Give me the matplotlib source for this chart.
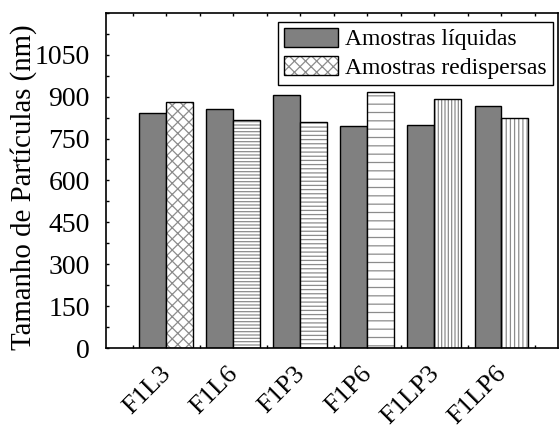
import matplotlib
matplotlib.use("Agg")
import matplotlib.pyplot as plt
import matplotlib.transforms as mtransforms
import numpy as np
from matplotlib.patches import Patch
from matplotlib.legend_handler import HandlerTuple
from matplotlib.ticker import MultipleLocator

categories = ["F1L3", "F1L6", "F1P3", "F1P6", "F1LP3", "F1LP6"]
liquidas = [842, 856, 904, 794, 798, 866]
redispersas = [881, 815, 810, 915, 891, 824]
hatches = ["xxx", "-----", "----", "--", "|||||", "||||"]
yticks = [0, 150, 300, 450, 600, 750, 900, 1050]

plt.rcParams['font.family'] = ['Liberation Serif', 'DejaVu Serif']
plt.rcParams['hatch.linewidth'] = 0.9

fig = plt.figure(figsize=(5.6, 4.26), dpi=100)
ax = fig.add_axes([0.189, 0.183, 0.808, 0.787])

x = np.arange(1, len(categories) + 1)
w = 0.4
dark = "#808080"
hatchgrey = "#8c8c8c"

ax.bar(x - w / 2, liquidas, width=w, color=dark, edgecolor="black", linewidth=1.0, zorder=2)
for xi, v, h in zip(x, redispersas, hatches):
    ax.bar(xi + w / 2, v, width=w, color="white", edgecolor=hatchgrey, linewidth=0, hatch=h, zorder=2)
    ax.bar(xi + w / 2, v, width=w, fill=False, edgecolor="black", linewidth=1.0, zorder=3)

ax.set_xlim(0.1, 6.85)
ax.set_ylim(0, 1200)
ax.set_yticks(yticks)
ax.yaxis.set_minor_locator(MultipleLocator(75))
ax.set_xticks(x)
ax.set_xticklabels([])
offset = mtransforms.ScaledTranslation(-4.5 / 72, -10.5 / 72, fig.dpi_scale_trans)
trans = ax.get_xaxis_transform() + offset
for xi, lab in zip(x, categories):
    ax.text(xi, 0, lab, transform=trans, rotation=45, ha="right", va="top",
            rotation_mode="anchor", fontsize=19, clip_on=False)
ax.xaxis.set_minor_locator(MultipleLocator(0.5))
ax.tick_params(axis="y", which="major", direction="out", length=5, width=1, labelsize=20, pad=11.5)
ax.tick_params(axis="y", which="minor", direction="out", length=3, width=1)
ax.tick_params(axis="x", which="major", direction="out", length=6, width=1)
ax.tick_params(axis="x", which="minor", direction="inout", length=3, width=1)
ax.tick_params(top=True, which="minor", direction="in", length=2)
ax.tick_params(top=True, which="major", direction="in", length=2)
for s in ax.spines.values():
    s.set_linewidth(1.2)

ax.set_ylabel("Tamanho de Partículas (nm)", fontsize=20.8)
ax.yaxis.set_label_coords(-0.152, 0.48)

h1 = Patch(facecolor=dark, edgecolor="black", linewidth=1.0)
h2a = Patch(facecolor="white", edgecolor=hatchgrey, linewidth=0, hatch="xxx")
h2b = Patch(fill=False, edgecolor="black", linewidth=1.0)
leg = ax.legend([h1, (h2a, h2b)], ["Amostras líquidas", "Amostras redispersas"],
                handler_map={tuple: HandlerTuple(ndivide=1, pad=0)},
                loc="upper right", bbox_to_anchor=(0.988, 0.973), borderaxespad=0,
                fontsize=17, fancybox=False, framealpha=1, edgecolor="black",
                handlelength=2.3, handleheight=0.85, handletextpad=0.3,
                borderpad=0.25, labelspacing=0.25)
leg.get_frame().set_linewidth(1.0)

fig.savefig("out.png", dpi=100)
